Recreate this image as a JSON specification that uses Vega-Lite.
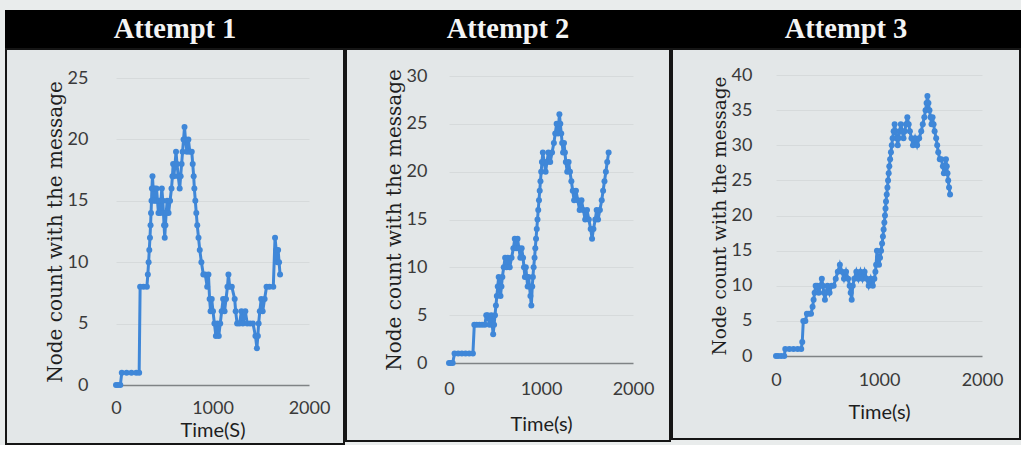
{
  "$schema": "https://vega.github.io/schema/vega-lite/v6.json",
  "background": "#e9ecec",
  "padding": {"left": 5, "top": 10, "right": 0, "bottom": 0},
  "spacing": 0,
  "datasets": {
    "a1": [
      {"t":0,"c":0},{"t":20,"c":0},{"t":45,"c":0},{"t":60,"c":1},{"t":110,"c":1},{"t":160,"c":1},{"t":210,"c":1},{"t":240,"c":1},{"t":250,"c":8},{"t":285,"c":8},{"t":320,"c":8},{"t":330,"c":9},{"t":338,"c":10},{"t":345,"c":11},{"t":352,"c":12},{"t":358,"c":13},{"t":363,"c":14},{"t":368,"c":15},{"t":372,"c":16},{"t":378,"c":17},{"t":385,"c":16},{"t":392,"c":15},{"t":400,"c":16},{"t":410,"c":15},{"t":420,"c":16},{"t":430,"c":15},{"t":440,"c":14},{"t":450,"c":15},{"t":458,"c":14},{"t":465,"c":15},{"t":475,"c":16},{"t":485,"c":15},{"t":492,"c":14},{"t":498,"c":13},{"t":505,"c":12},{"t":512,"c":13},{"t":520,"c":14},{"t":530,"c":15},{"t":545,"c":14},{"t":560,"c":15},{"t":575,"c":16},{"t":585,"c":17},{"t":592,"c":18},{"t":600,"c":17},{"t":612,"c":18},{"t":622,"c":19},{"t":632,"c":18},{"t":645,"c":17},{"t":660,"c":16},{"t":670,"c":17},{"t":680,"c":18},{"t":690,"c":19},{"t":700,"c":20},{"t":710,"c":21},{"t":720,"c":20},{"t":735,"c":19},{"t":750,"c":20},{"t":765,"c":19},{"t":785,"c":19},{"t":795,"c":18},{"t":805,"c":17},{"t":812,"c":16},{"t":822,"c":15},{"t":832,"c":14},{"t":842,"c":13},{"t":855,"c":12},{"t":868,"c":11},{"t":885,"c":10},{"t":905,"c":9},{"t":925,"c":9},{"t":945,"c":8},{"t":958,"c":9},{"t":970,"c":7},{"t":980,"c":6},{"t":992,"c":7},{"t":1005,"c":6},{"t":1020,"c":5},{"t":1035,"c":4},{"t":1050,"c":5},{"t":1065,"c":4},{"t":1080,"c":5},{"t":1095,"c":6},{"t":1110,"c":7},{"t":1125,"c":6},{"t":1140,"c":7},{"t":1155,"c":8},{"t":1165,"c":9},{"t":1178,"c":8},{"t":1200,"c":8},{"t":1230,"c":7},{"t":1240,"c":6},{"t":1255,"c":5},{"t":1280,"c":5},{"t":1300,"c":6},{"t":1315,"c":5},{"t":1340,"c":6},{"t":1360,"c":5},{"t":1390,"c":5},{"t":1420,"c":5},{"t":1445,"c":4},{"t":1460,"c":3},{"t":1470,"c":4},{"t":1478,"c":5},{"t":1490,"c":6},{"t":1505,"c":7},{"t":1520,"c":6},{"t":1540,"c":7},{"t":1560,"c":8},{"t":1590,"c":8},{"t":1630,"c":8},{"t":1648,"c":12},{"t":1660,"c":11},{"t":1672,"c":10},{"t":1680,"c":11},{"t":1690,"c":10},{"t":1700,"c":9}
    ],
    "a2": [
      {"t":0,"c":0},{"t":20,"c":0},{"t":40,"c":0},{"t":60,"c":1},{"t":100,"c":1},{"t":140,"c":1},{"t":180,"c":1},{"t":220,"c":1},{"t":260,"c":1},{"t":275,"c":4},{"t":300,"c":4},{"t":330,"c":4},{"t":360,"c":4},{"t":390,"c":4},{"t":405,"c":5},{"t":420,"c":5},{"t":440,"c":4},{"t":460,"c":5},{"t":470,"c":4},{"t":480,"c":3},{"t":490,"c":4},{"t":500,"c":5},{"t":510,"c":6},{"t":520,"c":7},{"t":530,"c":8},{"t":540,"c":9},{"t":550,"c":8},{"t":560,"c":7},{"t":570,"c":8},{"t":580,"c":9},{"t":595,"c":10},{"t":610,"c":11},{"t":625,"c":10},{"t":640,"c":11},{"t":660,"c":10},{"t":680,"c":11},{"t":700,"c":12},{"t":715,"c":13},{"t":730,"c":12},{"t":745,"c":13},{"t":760,"c":12},{"t":775,"c":11},{"t":790,"c":12},{"t":805,"c":11},{"t":815,"c":10},{"t":825,"c":9},{"t":835,"c":10},{"t":845,"c":9},{"t":855,"c":8},{"t":865,"c":9},{"t":875,"c":8},{"t":885,"c":7},{"t":895,"c":6},{"t":905,"c":8},{"t":912,"c":9},{"t":920,"c":10},{"t":930,"c":11},{"t":938,"c":12},{"t":946,"c":13},{"t":954,"c":14},{"t":962,"c":15},{"t":970,"c":16},{"t":978,"c":17},{"t":986,"c":18},{"t":994,"c":19},{"t":1002,"c":20},{"t":1010,"c":21},{"t":1020,"c":22},{"t":1035,"c":21},{"t":1050,"c":20},{"t":1065,"c":21},{"t":1080,"c":22},{"t":1100,"c":21},{"t":1120,"c":22},{"t":1140,"c":23},{"t":1155,"c":24},{"t":1170,"c":25},{"t":1185,"c":24},{"t":1200,"c":26},{"t":1210,"c":25},{"t":1220,"c":24},{"t":1230,"c":23},{"t":1240,"c":22},{"t":1250,"c":23},{"t":1260,"c":22},{"t":1270,"c":21},{"t":1285,"c":20},{"t":1300,"c":21},{"t":1315,"c":20},{"t":1330,"c":19},{"t":1345,"c":18},{"t":1360,"c":17},{"t":1380,"c":18},{"t":1400,"c":17},{"t":1420,"c":16},{"t":1440,"c":17},{"t":1460,"c":16},{"t":1480,"c":15},{"t":1500,"c":16},{"t":1520,"c":15},{"t":1540,"c":14},{"t":1555,"c":13},{"t":1570,"c":14},{"t":1590,"c":15},{"t":1605,"c":16},{"t":1620,"c":15},{"t":1640,"c":16},{"t":1660,"c":17},{"t":1675,"c":18},{"t":1690,"c":19},{"t":1705,"c":20},{"t":1720,"c":21},{"t":1735,"c":22}
    ],
    "a3": [
      {"t":0,"c":0},{"t":20,"c":0},{"t":50,"c":0},{"t":80,"c":0},{"t":90,"c":1},{"t":130,"c":1},{"t":170,"c":1},{"t":210,"c":1},{"t":245,"c":1},{"t":255,"c":2},{"t":265,"c":5},{"t":285,"c":5},{"t":300,"c":6},{"t":320,"c":6},{"t":340,"c":6},{"t":355,"c":7},{"t":365,"c":8},{"t":375,"c":9},{"t":385,"c":10},{"t":400,"c":10},{"t":415,"c":9},{"t":430,"c":10},{"t":445,"c":11},{"t":455,"c":10},{"t":465,"c":9},{"t":475,"c":8},{"t":485,"c":9},{"t":500,"c":10},{"t":520,"c":9},{"t":540,"c":10},{"t":560,"c":10},{"t":580,"c":11},{"t":600,"c":12},{"t":620,"c":13},{"t":640,"c":12},{"t":660,"c":11},{"t":680,"c":12},{"t":700,"c":11},{"t":715,"c":10},{"t":725,"c":9},{"t":735,"c":8},{"t":745,"c":10},{"t":760,"c":11},{"t":780,"c":12},{"t":800,"c":11},{"t":820,"c":12},{"t":840,"c":11},{"t":860,"c":12},{"t":880,"c":11},{"t":900,"c":10},{"t":920,"c":11},{"t":940,"c":10},{"t":955,"c":11},{"t":965,"c":12},{"t":972,"c":13},{"t":980,"c":15},{"t":990,"c":14},{"t":1000,"c":13},{"t":1010,"c":14},{"t":1020,"c":15},{"t":1030,"c":16},{"t":1038,"c":17},{"t":1045,"c":18},{"t":1052,"c":19},{"t":1058,"c":20},{"t":1063,"c":21},{"t":1068,"c":22},{"t":1075,"c":23},{"t":1082,"c":24},{"t":1088,"c":25},{"t":1094,"c":26},{"t":1100,"c":27},{"t":1108,"c":28},{"t":1116,"c":29},{"t":1124,"c":30},{"t":1132,"c":31},{"t":1142,"c":32},{"t":1152,"c":33},{"t":1162,"c":32},{"t":1172,"c":31},{"t":1182,"c":30},{"t":1190,"c":31},{"t":1200,"c":32},{"t":1212,"c":33},{"t":1225,"c":32},{"t":1238,"c":31},{"t":1250,"c":32},{"t":1262,"c":33},{"t":1275,"c":34},{"t":1288,"c":33},{"t":1300,"c":32},{"t":1315,"c":31},{"t":1330,"c":30},{"t":1350,"c":31},{"t":1370,"c":30},{"t":1390,"c":31},{"t":1410,"c":32},{"t":1425,"c":33},{"t":1440,"c":34},{"t":1452,"c":35},{"t":1462,"c":36},{"t":1470,"c":37},{"t":1480,"c":36},{"t":1490,"c":35},{"t":1500,"c":34},{"t":1510,"c":33},{"t":1520,"c":34},{"t":1530,"c":33},{"t":1540,"c":32},{"t":1555,"c":31},{"t":1565,"c":30},{"t":1575,"c":29},{"t":1590,"c":28},{"t":1605,"c":28},{"t":1620,"c":27},{"t":1630,"c":26},{"t":1640,"c":27},{"t":1650,"c":28},{"t":1658,"c":27},{"t":1665,"c":26},{"t":1672,"c":25},{"t":1680,"c":24},{"t":1690,"c":23}
    ]
  },
  "config": {
    "axis": {
      "domain": false,
      "ticks": false,
      "labelFont": "Lato",
      "labelFontSize": 18,
      "labelColor": "#3a3a3a",
      "labelPadding": 6,
      "labelFlush": false,
      "labelOverlap": false,
      "titleFontWeight": "normal",
      "titleColor": "#1e1e1e",
      "format": "d"
    },
    "axisX": {"grid": false, "titleFont": "Lato", "titleFontSize": 20},
    "axisY": {
      "grid": true,
      "gridColor": {"condition": {"test": "datum.value === 0", "value": "#7f8385"}, "value": "#d6dadb"},
      "gridWidth": {"condition": {"test": "datum.value === 0", "value": 1.3}, "value": 1},
      "titleFont": "DejaVu Serif",
      "titleFontSize": 20
    },
    "line": {"color": "#3f87d8", "strokeWidth": 3}
  },
  "hconcat": [
    {
      "spacing": 0,
      "vconcat": [
        {
          "width": 338, "height": 36,
          "view": {"fill": "#000000", "stroke": "#000000", "strokeWidth": 2},
          "data": {"values": [{"label": "Attempt 1"}]},
          "mark": {"type": "text", "font": "Liberation Serif", "fontWeight": "bold", "fontSize": 28.5, "color": "#f4f4f4"},
          "encoding": {"text": {"field": "label"}}
        },
        {
          "width": 338, "height": 395,
          "view": {"fill": "#e3e7e8", "stroke": "#151515", "strokeWidth": 2},
          "data": {"name": "a1"},
          "mark": {"type": "line", "point": {"filled": true, "size": 36, "color": "#3f87d8"}},
          "encoding": {
            "x": {"field": "t", "type": "quantitative", "scale": {"domain": [0, 2000], "range": [110, 303], "nice": false},
                  "axis": {"values": [0, 1000, 2000], "title": "Time(S)", "offset": -51, "titlePadding": 3}},
            "y": {"field": "c", "type": "quantitative", "scale": {"domain": [0, 25], "range": [336, 29], "nice": false},
                  "axis": {"values": [0, 5, 10, 15, 20, 25], "title": "Node count with the message", "offset": -88, "titlePadding": 2}}
          }
        }
      ]
    },
    {
      "spacing": 0,
      "vconcat": [
        {
          "width": 324, "height": 36,
          "view": {"fill": "#000000", "stroke": "#000000", "strokeWidth": 2},
          "data": {"values": [{"label": "Attempt 2"}]},
          "mark": {"type": "text", "font": "Liberation Serif", "fontWeight": "bold", "fontSize": 28.5, "color": "#f4f4f4"},
          "encoding": {"text": {"field": "label"}}
        },
        {
          "width": 324, "height": 392,
          "view": {"fill": "#e3e7e8", "stroke": "#151515", "strokeWidth": 2},
          "data": {"name": "a2"},
          "mark": {"type": "line", "point": {"filled": true, "size": 36, "color": "#3f87d8"}},
          "encoding": {
            "x": {"field": "t", "type": "quantitative", "scale": {"domain": [0, 2000], "range": [103, 287], "nice": false},
                  "axis": {"values": [0, 1000, 2000], "title": "Time(s)", "offset": -66.5, "titlePadding": 16}},
            "y": {"field": "c", "type": "quantitative", "scale": {"domain": [0, 30], "range": [314, 27], "nice": false},
                  "axis": {"values": [0, 5, 10, 15, 20, 25, 30], "title": "Node count with the message", "offset": -87, "titlePadding": 2}}
          }
        }
      ]
    },
    {
      "spacing": 0,
      "vconcat": [
        {
          "width": 348, "height": 36,
          "view": {"fill": "#000000", "stroke": "#000000", "strokeWidth": 2},
          "data": {"values": [{"label": "Attempt 3"}]},
          "mark": {"type": "text", "font": "Liberation Serif", "fontWeight": "bold", "fontSize": 28.5, "color": "#f4f4f4"},
          "encoding": {"text": {"field": "label"}}
        },
        {
          "width": 348, "height": 390,
          "view": {"fill": "#e3e7e8", "stroke": "#151515", "strokeWidth": 2},
          "data": {"name": "a3"},
          "mark": {"type": "line", "point": {"filled": true, "size": 36, "color": "#3f87d8"}},
          "encoding": {
            "x": {"field": "t", "type": "quantitative", "scale": {"domain": [0, 2000], "range": [104, 310], "nice": false},
                  "axis": {"values": [0, 1000, 2000], "title": "Time(s)", "offset": -73.5, "titlePadding": 13}},
            "y": {"field": "c", "type": "quantitative", "scale": {"domain": [0, 40], "range": [307, 26], "nice": false},
                  "axis": {"values": [0, 5, 10, 15, 20, 25, 30, 35, 40], "title": "Node count with the message", "offset": -86, "titlePadding": 2, "titleFontSize": 18.5}}
          }
        }
      ]
    }
  ]
}
